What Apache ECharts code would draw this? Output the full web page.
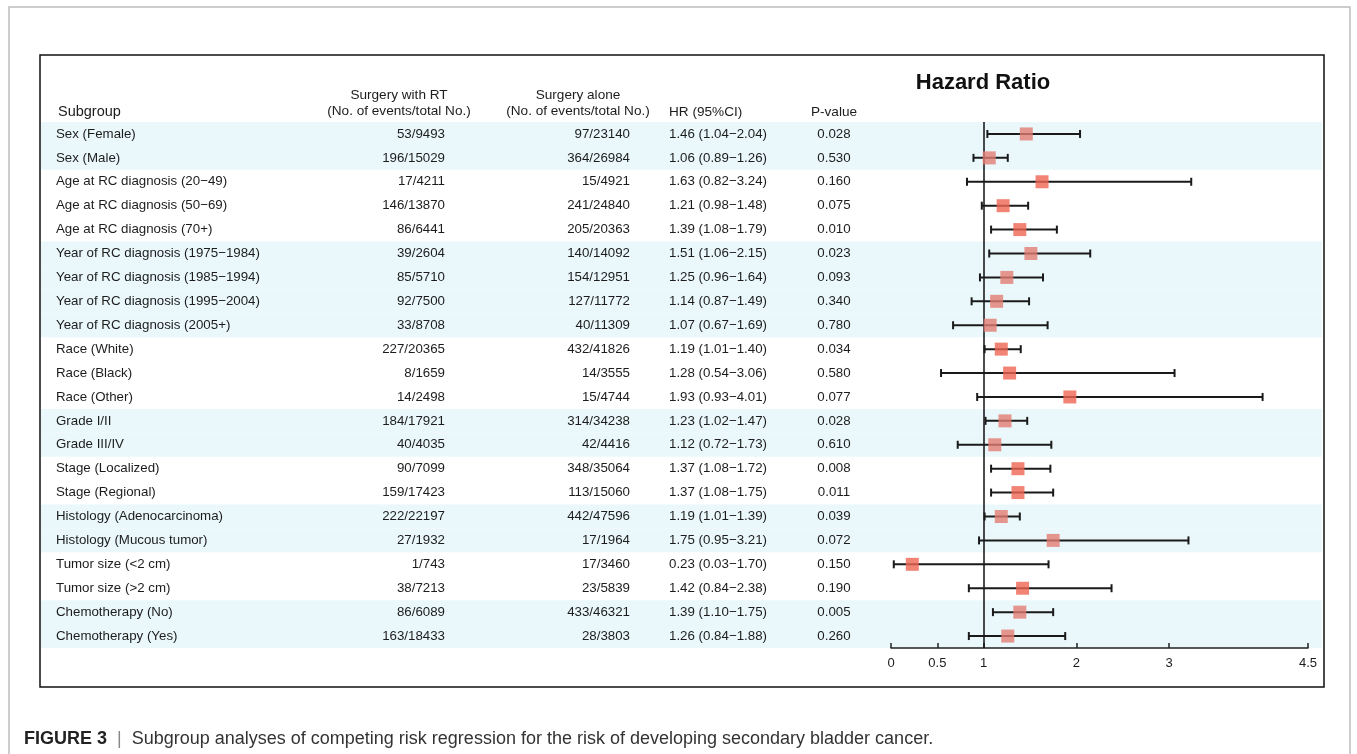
<!DOCTYPE html>
<html>
<head>
<meta charset="utf-8">
<script src="https://cdn.jsdelivr.net/npm/echarts@6/dist/echarts.min.js"></script>
<style>
html,body{margin:0;padding:0;background:#fff;}
#c{width:1357px;height:754px;}
</style>
</head>
<body>
<div id="c"></div>
<script>
// ---- data ----
const subgroups = [
  'Sex (Female)', 'Sex (Male)',
  'Age at RC diagnosis (20\u221249)', 'Age at RC diagnosis (50\u221269)', 'Age at RC diagnosis (70+)',
  'Year of RC diagnosis (1975\u22121984)', 'Year of RC diagnosis (1985\u22121994)',
  'Year of RC diagnosis (1995\u22122004)', 'Year of RC diagnosis (2005+)',
  'Race (White)', 'Race (Black)', 'Race (Other)',
  'Grade I/II', 'Grade III/IV',
  'Stage (Localized)', 'Stage (Regional)',
  'Histology (Adenocarcinoma)', 'Histology (Mucous tumor)',
  'Tumor size (<2 cm)', 'Tumor size (>2 cm)',
  'Chemotherapy (No)', 'Chemotherapy (Yes)'
];
const withRT = ['53/9493','196/15029','17/4211','146/13870','86/6441','39/2604','85/5710','92/7500','33/8708',
  '227/20365','8/1659','14/2498','184/17921','40/4035','90/7099','159/17423','222/22197','27/1932',
  '1/743','38/7213','86/6089','163/18433'];
const alone = ['97/23140','364/26984','15/4921','241/24840','205/20363','140/14092','154/12951','127/11772','40/11309',
  '432/41826','14/3555','15/4744','314/34238','42/4416','348/35064','113/15060','442/47596','17/1964',
  '17/3460','23/5839','433/46321','28/3803'];
const hr = [1.46,1.06,1.63,1.21,1.39,1.51,1.25,1.14,1.07,1.19,1.28,1.93,1.23,1.12,1.37,1.37,1.19,1.75,0.23,1.42,1.39,1.26];
const ciLow = [1.04,0.89,0.82,0.98,1.08,1.06,0.96,0.87,0.67,1.01,0.54,0.93,1.02,0.72,1.08,1.08,1.01,0.95,0.03,0.84,1.10,0.84];
const ciHigh = [2.04,1.26,3.24,1.48,1.79,2.15,1.64,1.49,1.69,1.40,3.06,4.01,1.47,1.73,1.72,1.75,1.39,3.21,1.70,2.38,1.75,1.88];
const pValues = ['0.028','0.530','0.160','0.075','0.010','0.023','0.093','0.340','0.780','0.034','0.580','0.077',
  '0.028','0.610','0.008','0.011','0.039','0.072','0.150','0.190','0.005','0.260'];
const shadedRows = [0,1,5,6,7,8,12,13,16,17,20,21];
const xTicks = [0, 0.5, 1, 2, 3, 4.5];

// ---- styles ----
const FONT = '"Liberation Sans", Arial, sans-serif';
const TXT = '#1c1c1c';
const BAND = '#eaf8fc';
const SQ_WHITE = '#ef6554';
const SQ_BAND = '#e27c70';

const rowIdx = subgroups.map((_, i) => i);
const hrText = hr.map((v, i) => v.toFixed(2) + ' (' + ciLow[i].toFixed(2) + '\u2212' + ciHigh[i].toFixed(2) + ')');

const chart = echarts.init(document.getElementById('c'), null, {renderer: 'canvas'});

function txt(x, y, s, align, size) {
  return {
    type: 'text', x: x, y: y, silent: true,
    style: {text: s, fill: TXT, font: (size || 13.3) + 'px ' + FONT, align: align, verticalAlign: 'middle'}
  };
}

const option = {
  animation: false,
  backgroundColor: '#ffffff',
  grid: {left: 891, right: 49, top: 122, height: 526, containLabel: false},
  xAxis: {
    type: 'value', min: 0, max: 4.5,
    axisLine: {show: true, onZero: false, lineStyle: {color: '#222', width: 1.5}},
    axisTick: {show: true, inside: true, length: 5, customValues: xTicks, lineStyle: {color: '#222', width: 1.5}},
    axisLabel: {show: true, customValues: xTicks, margin: 9, color: TXT, fontSize: 13, fontFamily: FONT,
      formatter: v => String(v)},
    splitLine: {show: false}
  },
  yAxis: {
    type: 'category', data: subgroups, inverse: true, show: false
  },
  graphic: [
    {type: 'rect', shape: {x: 9, y: 7, width: 1341, height: 800}, silent: true, z: -10,
      style: {fill: 'none', stroke: '#bdbdbd', lineWidth: 1.5}},
    {type: 'rect', shape: {x: 40, y: 55, width: 1284, height: 632}, silent: true, z: 100,
      style: {fill: 'none', stroke: '#111', lineWidth: 1.5}},
    txt(58, 112, 'Subgroup', 'left', 14.5),
    txt(399, 95, 'Surgery with RT', 'center', 13.6),
    txt(399, 111, '(No. of events/total No.)', 'center', 13.6),
    txt(578, 95, 'Surgery alone', 'center', 13.6),
    txt(578, 111, '(No. of events/total No.)', 'center', 13.6),
    txt(669, 112, 'HR (95%CI)', 'left', 13.6),
    txt(834, 112, 'P-value', 'center', 13.6),
    {type: 'text', x: 983, y: 83, silent: true,
      style: {text: 'Hazard Ratio', fill: '#111', font: 'bold 22px ' + FONT, align: 'center', verticalAlign: 'middle'}},
    {type: 'text', x: 24, y: 739, silent: true,
      style: {
        text: '{b|FIGURE 3}{s|  |  }{n|Subgroup analyses of competing risk regression for the risk of developing secondary bladder cancer.}',
        verticalAlign: 'middle', align: 'left',
        rich: {
          b: {font: 'bold 18px ' + FONT, fill: '#222'},
          s: {font: '18px ' + FONT, fill: '#888'},
          n: {font: '18px ' + FONT, fill: '#333'}
        }
      }}
  ],
  series: [
    {
      // row bands
      type: 'custom', z: 0, silent: true, clip: false,
      data: shadedRows.map(r => [0, r]),
      dimensions: ['x', 'row'],
      encode: {x: 0, y: 1},
      renderItem: function (params, api) {
        const c = api.coord([0, api.value(1)]);
        const h = api.size([0, 1])[1];
        return {type: 'rect', shape: {x: 41, y: c[1] - h / 2, width: 1281, height: h},
          style: {fill: BAND}};
      }
    },
    {
      // table text
      type: 'custom', z: 1, silent: true, clip: false,
      data: rowIdx.map(r => [0, r]),
      dimensions: ['x', 'row'],
      encode: {x: 0, y: 1},
      renderItem: function (params, api) {
        const i = params.dataIndex;
        const y = api.coord([0, api.value(1)])[1];
        return {type: 'group', children: [
          txt(56, y, subgroups[i], 'left'),
          txt(445, y, withRT[i], 'right'),
          txt(630, y, alone[i], 'right'),
          txt(669, y, hrText[i], 'left'),
          txt(834, y, pValues[i], 'center')
        ]};
      }
    },
    {
      // CI whiskers
      type: 'custom', z: 3, silent: true, clip: false,
      data: rowIdx.map(i => [ciLow[i], ciHigh[i], i]),
      dimensions: ['lo', 'hi', 'row'],
      encode: {x: [0, 1], y: 2},
      renderItem: function (params, api) {
        const a = api.coord([api.value(0), api.value(2)]);
        const b = api.coord([api.value(1), api.value(2)]);
        const st = {stroke: '#1a1a1a', lineWidth: 2};
        return {type: 'group', children: [
          {type: 'line', shape: {x1: a[0], y1: a[1], x2: b[0], y2: b[1]}, style: st},
          {type: 'line', shape: {x1: a[0], y1: a[1] - 4, x2: a[0], y2: a[1] + 4}, style: st},
          {type: 'line', shape: {x1: b[0], y1: b[1] - 4, x2: b[0], y2: b[1] + 4}, style: st}
        ]};
      }
    },
    {
      // point estimates
      type: 'scatter', z: 4, silent: true,
      symbol: 'rect', symbolSize: 13,
      data: rowIdx.map(i => ({
        value: [hr[i], i],
        itemStyle: {color: shadedRows.indexOf(i) >= 0 ? SQ_BAND : SQ_WHITE}
      })),
      markLine: {
        silent: true, symbol: 'none', z: 2,
        label: {show: false},
        lineStyle: {color: '#111', width: 1.5, type: 'solid'},
        data: [{xAxis: 1}]
      }
    }
  ]
};
chart.setOption(option);
</script>
</body>
</html>
